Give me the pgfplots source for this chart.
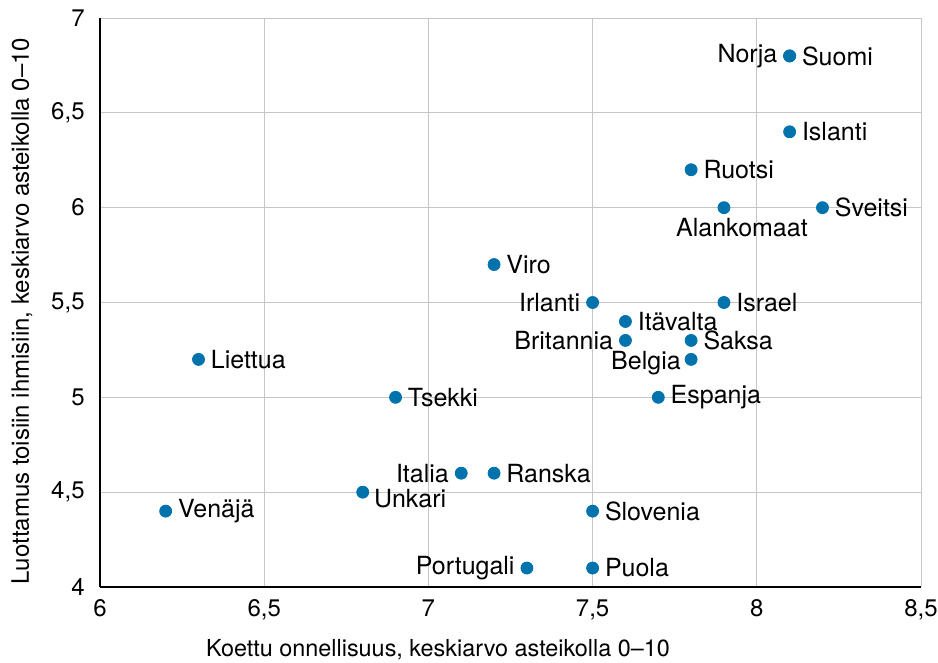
\documentclass[border=0pt]{standalone}
\usepackage{pgfplots}
\pgfplotsset{compat=1.18}
\usepackage{fontspec}
\setmainfont{TeX Gyre Heros}
\definecolor{dot}{HTML}{0072AC}
\begin{document}
\begin{tikzpicture}
\begin{axis}[
  scale only axis,
  width=410.5pt, height=284.5pt,
  xmin=6, xmax=8.5, ymin=4, ymax=7,
  xtick={6,6.5,...,8.5}, ytick={4,4.5,...,7},
  axis x line*=bottom, axis y line*=left,
  axis line style={black, line width=0.8pt, -},
  tick style={draw=none},
  grid=major,
  major grid style={gray!45, line width=0.5pt},
  font=\fontsize{12pt}{14pt}\selectfont,
  /pgf/number format/use comma,
  /pgf/number format/assume math mode=true,
  xticklabel style={anchor=north, inner sep=0pt, yshift=-6pt},
  yticklabel style={anchor=east, inner sep=0pt, xshift=-7.5pt},
  xlabel={Koettu onnellisuus, keskiarvo asteikolla 0–10},
  ylabel={Luottamus toisiin ihmisiin, keskiarvo asteikolla 0–10},
  xlabel style={at={(axis description cs:0.4117,0)}, anchor=center, yshift=-31.5pt, font=\fontsize{11.7pt}{14pt}\selectfont},
  ylabel style={at={(axis description cs:-0.095,0.485)}, anchor=center},
  clip=false,
  nodes near coords={\pgfplotspointmeta},
  point meta=explicit symbolic,
  every node near coord/.append style={font=\fontsize{12.5pt}{14pt}\selectfont, inner sep=1pt},
]
% labels to the right
\addplot[only marks, mark=*, mark size=3pt, color=dot,
  every node near coord/.append style={anchor=west, xshift=5pt, black}]
  table[meta=label, col sep=comma] {
x,y,label
8.1,6.8,Suomi
8.1,6.4,Islanti
7.8,6.2,Ruotsi
8.2,6.0,Sveitsi
7.2,5.7,Viro
7.9,5.5,Israel
7.6,5.4,Itävalta
7.8,5.3,Saksa
6.3,5.2,Liettua
6.9,5.0,Tsekki
7.7,5.0,Espanja
7.2,4.6,Ranska
6.2,4.4,Venäjä
7.5,4.4,Slovenia
7.5,4.1,Puola
};
% labels to the left
\addplot[only marks, mark=*, mark size=3pt, color=dot,
  every node near coord/.append style={anchor=east, xshift=-5pt, black}]
  table[meta=label, col sep=comma] {
x,y,label
8.1,6.8,Norja
7.5,5.5,Irlanti
7.6,5.3,Britannia
7.1,4.6,Italia
7.3,4.1,Portugali
};
% Belgia: left, slightly below
\addplot[only marks, mark=*, mark size=3pt, color=dot,
  every node near coord/.append style={anchor=east, xshift=-4pt, yshift=-2pt, black}]
  table[meta=label, col sep=comma] {
x,y,label
7.8,5.2,Belgia
};
% Unkari: right, slightly below
\addplot[only marks, mark=*, mark size=3pt, color=dot,
  every node near coord/.append style={anchor=west, xshift=4.5pt, yshift=-3pt, black}]
  table[meta=label, col sep=comma] {
x,y,label
6.8,4.5,Unkari
};
% Alankomaat: below
\addplot[only marks, mark=*, mark size=3pt, color=dot,
  every node near coord/.append style={anchor=north, xshift=9pt, yshift=-4pt, black}]
  table[meta=label, col sep=comma] {
x,y,label
7.9,6.0,Alankomaat
};
\end{axis}
\pgfresetboundingbox
\path ([xshift=-50pt, yshift=-38pt]current axis.south west) rectangle ([xshift=8.5pt, yshift=9pt]current axis.north east);
\end{tikzpicture}
\end{document}
